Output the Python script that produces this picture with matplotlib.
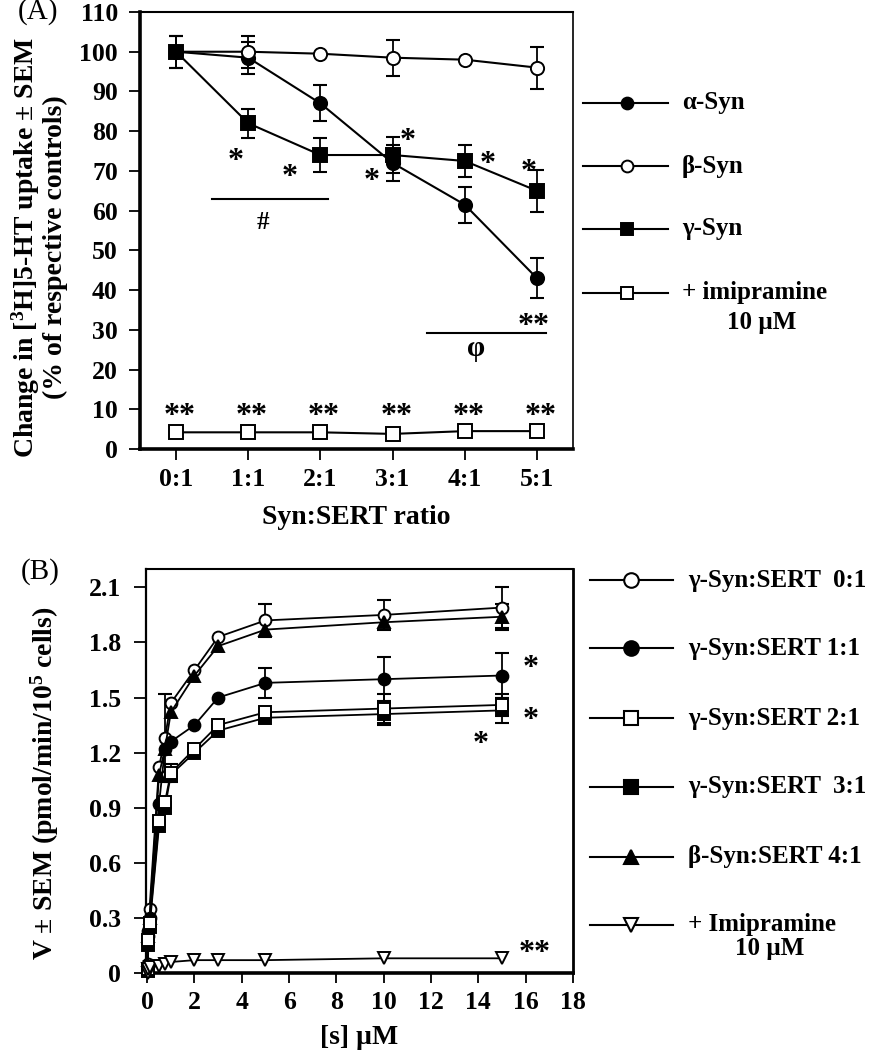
import numpy as np
import matplotlib
matplotlib.use("Agg")
import matplotlib.pyplot as plt

plt.rcParams["font.family"] = ["Liberation Serif", "DejaVu Serif"]
plt.rcParams["font.weight"] = "bold"
plt.rcParams["mathtext.fontset"] = "custom"
plt.rcParams["mathtext.rm"] = "Liberation Serif:bold"
plt.rcParams["mathtext.bf"] = "Liberation Serif:bold"
plt.rcParams["mathtext.it"] = "Liberation Serif:italic:bold"

# ---------- data, panel A (% of respective controls) ----------
ratios = ["0:1", "1:1", "2:1", "3:1", "4:1", "5:1"]
alpha_v = [100, 98.5, 87, 72, 61.5, 43]
alpha_e = [4, 4, 4.5, 4.5, 4.5, 5]
beta_v = [100, 100, 99.5, 98.5, 98, 96]
beta_e = [0, 4, 0, 4.5, 0, 5.3]
gamma_v = [100, 82, 74, 74, 72.5, 65]
gamma_e = [4, 3.7, 4.3, 4.5, 4, 5.3]
imip_v = [4.2, 4.2, 4.2, 3.8, 4.5, 4.5]
# significance marks (text, x index, y value)
a_marks = [("*", 0.83, 74.8), ("*", 1.57, 70.8), ("*", 2.71, 69.8), ("*", 3.21, 79.9),
           ("*", 4.32, 74), ("*", 4.88, 72), ("**", 4.95, 33.2)]
a_imip_mark_y = 10.6

# ---------- data, panel B (V, pmol/min/10^5 cells) ----------
conc = [0.02, 0.05, 0.1, 0.5, 0.75, 1, 2, 3, 5, 10, 15]
g01_v = [0.05, 0.23, 0.35, 1.12, 1.28, 1.47, 1.65, 1.83, 1.92, 1.95, 1.99]
g01_e = [0, 0, 0, 0, 0.24, 0, 0, 0, 0.09, 0.08, 0.11]
g11_v = [0.04, 0.20, 0.30, 0.92, 1.22, 1.26, 1.35, 1.50, 1.58, 1.60, 1.62]
g11_e = [0, 0, 0, 0, 0, 0, 0, 0, 0.08, 0.12, 0.12]
g21_v = [0.02, 0.18, 0.27, 0.83, 0.93, 1.09, 1.22, 1.35, 1.42, 1.44, 1.46]
g21_e = [0, 0, 0, 0, 0, 0.05, 0, 0, 0, 0.08, 0.06]
g31_v = [0.01, 0.15, 0.25, 0.80, 0.90, 1.08, 1.20, 1.32, 1.39, 1.41, 1.43]
g31_e = [0, 0, 0, 0, 0, 0, 0, 0, 0, 0.06, 0.07]
b41_v = [0.03, 0.20, 0.30, 1.08, 1.22, 1.42, 1.62, 1.78, 1.87, 1.91, 1.94]
b41_e = [0, 0, 0, 0, 0, 0, 0, 0, 0, 0, 0.07]
imipB_v = [0.0, 0.02, 0.03, 0.04, 0.05, 0.06, 0.07, 0.07, 0.07, 0.08, 0.08]
b_marks = [("*", 16.2, 1.71), ("*", 16.2, 1.43), ("*", 14.1, 1.30), ("**", 16.4, 0.16)]

W, H = 872, 1050
fig = plt.figure(figsize=(W / 100, H / 100), dpi=100)
fig.patch.set_facecolor("white")
TICK = 18.5
LAB = 20
LEG = 18


def px_ax(l, t, r, b):
    return fig.add_axes([l / W, 1 - b / H, (r - l) / W, (b - t) / H])


def series(ax, x, v, e, marker, fill, ms, lw=1.3):
    x = np.asarray(x, float); v = np.asarray(v, float); e = np.asarray(e, float)
    m = e > 0
    if m.any():
        ax.errorbar(x[m], v[m], yerr=e[m], fmt="none", ecolor="black", elinewidth=1.3,
                    capsize=5, capthick=1.5, zorder=2, clip_on=False)
    ax.plot(x, v, "-", color="black", lw=lw, marker=marker, ms=ms, mfc=fill, mec="black",
            mew=1.4, zorder=3, clip_on=False)


def mark(ax, s, x, y, size=23):
    ax.annotate(s, (x, y), xytext=(0, -12.5), textcoords="offset points", ha="center",
                va="baseline", fontsize=size)


def style(ax, lw):
    for side, w in zip(["left", "bottom", "top", "right"], lw):
        ax.spines[side].set_linewidth(w)
    ax.tick_params(direction="out", labelsize=TICK, width=1.3)


# ---------- panel A ----------
axA = px_ax(140, 12, 573, 449)
xa = np.arange(len(ratios))
series(axA, xa, alpha_v, alpha_e, "o", "black", 9.5, 1.5)
series(axA, xa, beta_v, beta_e, "o", "white", 9.5, 1.5)
series(axA, xa, gamma_v, gamma_e, "s", "black", 9.5, 1.5)
series(axA, xa, imip_v, [0] * 6, "s", "white", 9.5, 1.5)
for s, x, y in a_marks:
    mark(axA, s, x, y)
for x in xa:
    mark(axA, "**", x + 0.05, a_imip_mark_y)
axA.plot([0.5, 2.1], [63, 63], color="black", lw=1.5)
axA.text(1.2, 57, "#", ha="center", va="center", fontsize=18)
axA.plot([3.47, 5.12], [29.2, 29.2], color="black", lw=1.5, clip_on=False)
axA.text(4.16, 25.4, "φ", ha="center", va="center", fontsize=21)
axA.set_xlim(-0.5, 5.5)
axA.set_ylim(0, 110)
axA.set_yticks(np.arange(0, 111, 10))
axA.set_xticks(xa)
axA.set_xticklabels(ratios)
style(axA, [2.6, 2.6, 1.5, 1.2])
axA.tick_params(axis="y", length=8, pad=8)
axA.tick_params(axis="x", length=8, pad=6)
axA.set_xlabel("Syn:SERT ratio", fontsize=LAB, fontweight="bold")
axA.xaxis.set_label_coords(0.5, -0.156)
axA.xaxis.label.set_va("center")
axA.set_ylabel("Change in [$^{3}$H]5-HT uptake ± SEM\n(% of respective controls)",
               fontsize=LAB, fontweight="bold", linespacing=1.05)
axA.yaxis.set_label_coords(-0.233, 0.462)
axA.yaxis.label.set_va("center")

# ---------- panel B ----------
axB = px_ax(146, 569, 573, 973)
series(axB, conc, g01_v, g01_e, "o", "white", 8.5)
series(axB, conc, b41_v, b41_e, "^", "black", 8.5)
series(axB, conc, g11_v, g11_e, "o", "black", 8.5)
series(axB, conc, g31_v, g31_e, "s", "black", 8.0)
series(axB, conc, g21_v, g21_e, "s", "white", 8.0)
series(axB, conc, imipB_v, [0] * len(conc), "v", "white", 9.0)
for s, x, y in b_marks:
    mark(axB, s, x, y)
axB.set_xlim(-0.05, 18)
axB.set_ylim(0, 2.2)
axB.set_xticks(np.arange(0, 19, 2))
axB.set_yticks(np.arange(0, 2.11, 0.3))
axB.set_yticklabels(["0", "0.3", "0.6", "0.9", "1.2", "1.5", "1.8", "2.1"])
style(axB, [1.6, 2.6, 1.5, 2.0])
axB.tick_params(axis="y", length=9, pad=9)
axB.tick_params(axis="x", length=7, pad=6)
axB.set_xlabel("[s] µM", fontsize=LAB, fontweight="bold")
axB.xaxis.set_label_coords(0.5, -0.16)
axB.xaxis.label.set_va("center")
axB.set_ylabel("V ± SEM (pmol/min/10$^{5}$ cells)", fontsize=LAB, fontweight="bold")
axB.yaxis.set_label_coords(-0.237, 0.47)
axB.yaxis.label.set_va("center")

# ---------- panel letters and legends (figure pixel space) ----------
lax = fig.add_axes([0, 0, 1, 1])
lax.set_xlim(0, W)
lax.set_ylim(H, 0)
lax.axis("off")
lax.patch.set_alpha(0)
lax.text(38, 12, "(A)", ha="center", va="center", fontsize=21, fontweight="normal")
lax.text(40, 572, "(B)", ha="center", va="center", fontsize=21, fontweight="normal")

legA = [("α-Syn", "o", "black", 103), ("β-Syn", "o", "white", 166),
        ("γ-Syn", "s", "black", 229), ("+ imipramine", "s", "white", 293)]
for lab, mk, fc, y in legA:
    lax.plot([583, 668], [y, y], color="black", lw=1.5)
    lax.plot([627], [y], marker=mk, ms=8.5, mfc=fc, mec="black", mew=1.4)
    lax.text(682, y, lab, ha="left", va="center", fontsize=LEG)
lax.text(762, 322, "10 µM", ha="center", va="center", fontsize=LEG)

legB = [("γ-Syn:SERT  0:1", "o", "white", 580), ("γ-Syn:SERT 1:1", "o", "black", 648),
        ("γ-Syn:SERT 2:1", "s", "white", 718), ("γ-Syn:SERT  3:1", "s", "black", 787),
        ("β-Syn:SERT 4:1", "^", "black", 857), ("+ Imipramine", "v", "white", 925)]
for lab, mk, fc, y in legB:
    lax.plot([590, 673], [y, y], color="black", lw=1.5)
    lax.plot([631], [y], marker=mk, ms=10.5, mfc=fc, mec="black", mew=1.5)
    lax.text(688, y, lab, ha="left", va="center", fontsize=LEG)
lax.text(770, 949, "10 µM", ha="center", va="center", fontsize=LEG)

fig.savefig("out.png", dpi=100, facecolor="white")
print("OK out.png")
